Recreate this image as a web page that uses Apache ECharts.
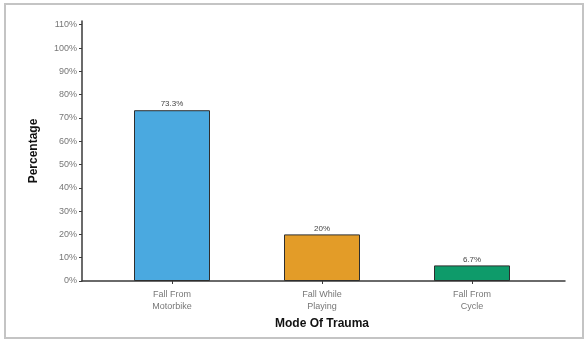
<!DOCTYPE html>
<html>
<head>
<meta charset="utf-8">
<script src="https://cdn.jsdelivr.net/npm/echarts@6/dist/echarts.min.js"></script>
<style>
  html, body { margin: 0; padding: 0; background: #fff; }
  #chart { width: 587px; height: 343px; }
</style>
</head>
<body>
<div id="chart"></div>
<script>
// Share of cases by mode of trauma
const categories = ['Fall From\nMotorbike', 'Fall While\nPlaying', 'Fall From\nCycle'];
const percentages = [73.3, 20, 6.7];
const barColors = ['#4aa9e0', '#e39c28', '#0e9b6a'];
const yTickValues = [0, 10, 20, 30, 40, 50, 60, 70, 80, 90, 100, 110];

const Y_MAX = 111.6;
const TOP = 21, BOTTOM = 62;

const chart = echarts.init(document.getElementById('chart'), null, { renderer: 'canvas' });

chart.setOption({
  backgroundColor: '#ffffff',
  animation: false,
  graphic: [
    {
      type: 'rect',
      shape: { x: 5, y: 4, width: 578, height: 334 },
      style: { fill: 'none', stroke: '#c4c4c4', lineWidth: 2 },
      silent: true
    }
  ],
  grid: [
    // frame grid: y axis with labels and full-width x axis line
    { left: 82, right: 22, top: TOP, bottom: BOTTOM, containLabel: false },
    // bar grid: categories spaced 150px apart
    { left: 97, width: 450, top: TOP, bottom: BOTTOM, containLabel: false }
  ],
  xAxis: [
    {
      gridIndex: 0, type: 'value', min: 0, max: 1,
      axisLine: { show: true, onZero: false, lineStyle: { color: '#3a3a3a', width: 1.5 } },
      axisTick: { show: false }, axisLabel: { show: false }, splitLine: { show: false }
    },
    {
      gridIndex: 1, type: 'category', data: categories,
      axisLine: { show: false },
      axisTick: { show: true, alignWithLabel: true, length: 3, lineStyle: { color: '#3a3a3a', width: 1 } },
      axisLabel: {
        color: '#777', fontSize: 9, lineHeight: 12, margin: 8,
        fontFamily: 'Liberation Sans, Arial, sans-serif'
      },
      name: 'Mode Of Trauma',
      nameLocation: 'middle',
      nameGap: 36,
      nameTextStyle: {
        color: '#111', fontSize: 12, fontWeight: 'bold',
        fontFamily: 'Liberation Sans, Arial, sans-serif'
      }
    }
  ],
  yAxis: [
    {
      gridIndex: 0, type: 'value', min: 0, max: Y_MAX,
      axisLine: { show: true, lineStyle: { color: '#3a3a3a', width: 1.5 } },
      axisTick: { show: true, length: 3, customValues: yTickValues, lineStyle: { color: '#3a3a3a' } },
      axisLabel: {
        customValues: yTickValues,
        formatter: v => v + '%',
        color: '#777', fontSize: 9, margin: 5,
        fontFamily: 'Liberation Sans, Arial, sans-serif'
      },
      splitLine: { show: false },
      name: 'Percentage',
      nameLocation: 'middle',
      nameGap: 42,
      nameTextStyle: {
        color: '#111', fontSize: 12, fontWeight: 'bold',
        fontFamily: 'Liberation Sans, Arial, sans-serif'
      }
    },
    {
      gridIndex: 1, type: 'value', min: 0, max: Y_MAX, show: false,
      splitLine: { show: false }
    }
  ],
  series: [
    {
      type: 'bar',
      xAxisIndex: 1,
      yAxisIndex: 1,
      barWidth: 76,
      data: percentages.map((v, i) => ({
        value: v,
        itemStyle: { color: barColors[i] }
      })),
      itemStyle: { borderColor: '#2e2e2e', borderWidth: 1 },
      label: {
        show: true,
        position: 'top',
        distance: 2,
        formatter: p => p.value + '%',
        color: '#444', fontSize: 8,
        fontFamily: 'Liberation Sans, Arial, sans-serif'
      }
    }
  ]
});
</script>
</body>
</html>
